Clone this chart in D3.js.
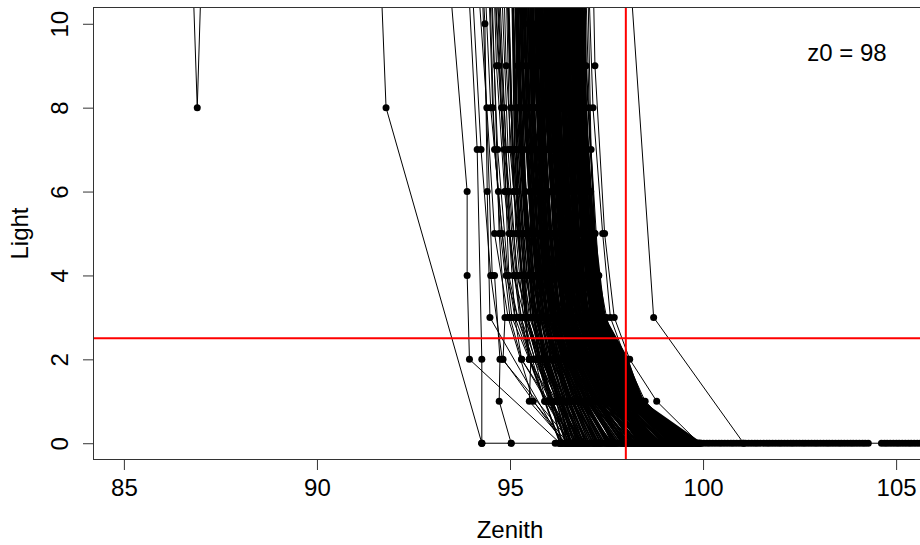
<!DOCTYPE html>
<html>
<head>
<meta charset="utf-8">
<script src="https://cdn.jsdelivr.net/npm/d3@7/dist/d3.min.js"></script>
<style>
  html, body { margin: 0; padding: 0; background: #fff; }
  svg { display: block; }
  text { font-family: "Liberation Sans", Arial, sans-serif; fill: #000; }
</style>
</head>
<body>
<svg id="chart" width="920" height="545"></svg>
<script>
// ---------------- data ----------------
const xTicks = [85, 90, 95, 100, 105];
const yTicks = [0, 2, 4, 6, 8, 10];
const xLimits = [85, 105];
const yLimits = [0, 10];
const z0 = 98;              // zenith threshold (red vertical)
const lightThreshold = 2.5; // light threshold (red horizontal)
const xLabel = "Zenith";
const yLabel = "Light";
const annotation = "z0 = 98";

// each twilight: flat list of zenith, light pairs
const outlierTwilights = [
  [86.79,11, 86.9,8, 87.0,11],
  [91.66,11, 91.79,8, 94.27,0],
  [98.05,12, 98.72,3, 101.05,0]
];

const earlyTwilights = [
  [93.35,12, 93.89,6, 93.89,4, 93.95,2, 96.3,0],
  [93.75,14, 94.15,7, 94.27,2, 94.27,0],
  [94.0,16, 94.35,10, 94.41,6, 94.48,3, 96.35,0],
  [94.2,13, 94.54,4, 94.6,4, 94.74,2, 94.72,1, 95.03,0],
  [94.4,15, 94.72,5, 94.87,3, 94.82,2, 96.4,0],
  [94.55,12, 94.89,6, 94.97,4, 95.2,3, 95.54,2, 95.5,1, 96.45,0],
  [94.6,14, 94.98,5, 95.13,3, 96.3,0],
  [94.7,18, 95.15,5, 95.35,3, 95.93,1, 96.55,0],
  [93.9,13, 94.25,7, 94.5,4, 94.8,2, 96.6,0],
  [94.1,12, 94.4,8, 94.6,5, 94.95,3, 95.6,1, 96.5,0],
  [94.25,17, 94.55,8, 94.75,5, 95.0,3, 95.3,2, 96.0,1, 96.7,0],
  [94.45,14, 94.7,9, 94.9,6, 95.1,4, 95.3,3, 95.5,2, 96.1,1, 96.6,0],
  [94.65,11, 94.85,8, 95.0,5, 95.25,3, 95.9,1, 96.8,0],
  [94.8,15, 95.0,7, 95.2,5, 95.4,3, 95.7,2, 96.0,1, 96.5,0],
  [94.3,12, 94.5,8, 94.7,6, 94.9,4, 95.2,3, 95.6,2, 96.2,1, 96.9,0],
  [94.38,14, 94.6,7, 94.8,5, 95.05,3, 95.5,2, 96.05,1, 96.75,0],
  [94.5,11, 94.68,7, 94.95,4, 95.3,2, 95.95,1, 96.6,0],
  [94.58,13, 94.78,8, 94.98,6, 95.2,4, 95.45,3, 95.8,2, 96.3,1, 96.95,0],
  [94.66,12, 94.85,7, 95.05,5, 95.28,3, 95.65,2, 96.15,1, 96.85,0],
  [94.72,15, 94.9,9, 95.1,6, 95.32,4, 95.55,3, 95.85,2, 96.4,1, 97.0,0],
  [94.78,11, 94.95,7, 95.18,4, 95.45,3, 95.8,2, 96.35,1, 96.9,0],
  [94.85,13, 95.02,8, 95.22,5, 95.44,3, 95.76,2, 96.22,1, 96.8,0],
  [94.9,12, 95.06,7, 95.27,5, 95.5,3, 95.9,2, 96.45,1, 97.05,0],
  [94.42,16, 94.65,9, 94.86,6, 95.1,4, 95.38,3, 95.72,2, 96.25,1, 96.7,0]
];

const mainTwilightsA = [
  [95.0,14, 95.12,7, 95.3,4, 95.45,3, 95.75,2, 96.05,1, 96.35,0],
  [95.04,20, 95.18,8, 95.4,5, 95.6,3, 95.85,2, 96.2,1, 96.5,0],
  [95.08,12, 95.2,9, 95.42,5, 95.66,3, 95.95,2, 96.3,1, 96.7,0],
  [95.1,17, 95.25,8, 95.5,4, 95.7,3, 95.92,2, 96.25,1, 96.6,0],
  [95.14,13, 95.3,7, 95.52,4, 95.74,2, 96.1,1, 96.45,0],
  [95.18,25, 95.33,9, 95.55,6, 95.76,4, 95.95,3, 96.2,2, 96.5,1, 96.9,0],
  [95.2,15, 95.36,8, 95.56,5, 95.8,3, 96.05,2, 96.4,1, 96.85,0],
  [95.24,12, 95.38,8, 95.6,4, 95.8,3, 96.0,2, 96.35,1, 96.75,0],
  [95.27,18, 95.42,9, 95.64,5, 95.86,3, 96.15,2, 96.5,1, 97.0,0],
  [95.3,14, 95.45,7, 95.66,4, 95.88,2, 96.3,1, 96.8,0],
  [95.33,22, 95.48,10, 95.7,6, 95.9,4, 96.1,3, 96.35,2, 96.7,1, 97.2,0],
  [95.36,13, 95.5,8, 95.72,5, 95.95,3, 96.25,2, 96.6,1, 97.05,0],
  [95.4,16, 95.55,9, 95.76,5, 95.98,3, 96.22,2, 96.55,1, 96.95,0],
  [95.42,12, 95.56,8, 95.78,4, 96.0,3, 96.3,2, 96.65,1, 97.15,0],
  [95.45,19, 95.6,8, 95.82,5, 96.05,3, 96.35,2, 96.75,1, 97.3,0],
  [95.48,14, 95.63,9, 95.85,6, 96.05,4, 96.25,3, 96.5,2, 96.85,1, 97.4,0],
  [95.5,13, 95.64,7, 95.86,4, 96.08,3, 96.4,2, 96.8,1, 97.25,0],
  [95.53,24, 95.68,10, 95.9,5, 96.12,3, 96.42,2, 96.9,1, 97.5,0],
  [95.56,15, 95.7,8, 95.92,5, 96.15,3, 96.45,2, 96.95,1, 97.6,0],
  [95.58,12, 95.72,9, 95.95,5, 96.18,3, 96.5,2, 96.85,1, 97.35,0],
  [95.6,17, 95.75,8, 95.96,4, 96.2,3, 96.48,2, 97.0,1, 97.7,0],
  [95.63,13, 95.77,7, 96.0,4, 96.22,3, 96.55,2, 96.95,1, 97.55,0],
  [95.66,20, 95.8,9, 96.02,5, 96.25,3, 96.6,2, 97.05,1, 97.8,0],
  [95.68,14, 95.82,8, 96.04,5, 96.28,3, 96.62,2, 97.1,1, 97.65,0],
  [95.7,12, 95.84,9, 96.06,6, 96.26,4, 96.46,3, 96.7,2, 97.15,1, 97.9,0],
  [95.72,18, 95.86,8, 96.08,5, 96.3,3, 96.65,2, 97.2,1, 98.0,0],
  [95.75,13, 95.88,8, 96.1,4, 96.32,3, 96.7,2, 97.1,1, 97.75,0],
  [95.77,16, 95.9,10, 96.12,5, 96.35,3, 96.72,2, 97.25,1, 98.1,0],
  [95.8,12, 95.93,8, 96.15,5, 96.38,3, 96.75,2, 97.3,1, 97.95,0],
  [95.82,21, 95.96,9, 96.18,5, 96.4,3, 96.78,2, 97.2,1, 98.2,0],
  [95.84,14, 95.98,8, 96.2,5, 96.42,3, 96.8,2, 97.35,1, 98.05,0],
  [95.86,13, 96.0,7, 96.22,4, 96.45,3, 96.85,2, 97.4,1, 98.3,0],
  [95.88,17, 96.02,9, 96.24,6, 96.44,4, 96.62,3, 96.9,2, 97.45,1, 98.15,0],
  [95.9,12, 96.04,8, 96.26,5, 96.5,3, 96.88,2, 97.5,1, 98.4,0],
  [95.92,15, 96.06,8, 96.28,5, 96.52,3, 96.92,2, 97.4,1, 98.25,0],
  [95.94,19, 96.08,10, 96.3,5, 96.54,3, 96.95,2, 97.55,1, 98.5,0],
  [95.96,13, 96.1,8, 96.32,4, 96.56,3, 96.98,2, 97.6,1, 98.35,0],
  [95.98,16, 96.12,9, 96.34,5, 96.58,3, 97.0,2, 97.5,1, 98.6,0],
  [96.0,12, 96.14,8, 96.36,5, 96.6,3, 97.02,2, 97.65,1, 98.45,0],
  [96.02,23, 96.16,9, 96.38,5, 96.62,3, 97.05,2, 97.6,1, 98.5,0],
  [96.04,14, 96.18,8, 96.4,5, 96.64,3, 97.08,2, 97.55,1, 98.45,0],
  [96.06,13, 96.2,7, 96.42,4, 96.66,3, 97.1,2, 97.65,1, 98.6,0],
  [96.08,17, 96.22,9, 96.44,6, 96.64,4, 96.84,3, 97.12,2, 97.7,1, 98.55,0],
  [96.1,12, 96.24,8, 96.46,5, 96.7,3, 97.15,2, 97.62,1, 98.7,0],
  [96.12,15, 96.26,8, 96.48,5, 96.72,3, 97.18,2, 97.75,1, 98.65,0],
  [96.14,20, 96.28,10, 96.5,5, 96.74,3, 97.2,2, 97.8,1, 98.8,0],
  [96.16,13, 96.3,8, 96.52,4, 96.76,3, 97.22,2, 97.72,1, 98.75,0],
  [96.18,16, 96.32,9, 96.54,5, 96.78,3, 97.25,2, 97.85,1, 98.9,0],
  [96.2,12, 96.34,8, 96.56,5, 96.8,3, 97.28,2, 97.9,1, 98.85,0],
  [96.22,19, 96.36,9, 96.58,5, 96.82,3, 97.3,2, 97.82,1, 99.0,0],
  [96.24,14, 96.38,8, 96.6,5, 96.84,3, 97.32,2, 97.95,1, 98.95,0],
  [96.26,13, 96.4,7, 96.62,4, 96.86,3, 97.35,2, 98.0,1, 99.1,0],
  [96.28,18, 96.42,9, 96.64,6, 96.84,4, 97.04,3, 97.38,2, 97.92,1, 99.05,0],
  [96.3,12, 96.44,8, 96.66,5, 96.9,3, 97.4,2, 98.02,1, 99.2,0],
  [96.32,15, 96.46,8, 96.68,5, 96.92,3, 97.42,2, 98.05,1, 99.15,0],
  [96.34,21, 96.48,10, 96.7,5, 96.94,3, 97.45,2, 97.98,1, 99.3,0],
  [96.36,13, 96.5,8, 96.72,4, 96.96,3, 97.48,2, 98.08,1, 99.25,0],
  [96.38,16, 96.52,9, 96.74,5, 96.98,3, 97.5,2, 98.1,1, 99.4,0],
  [96.4,12, 96.54,8, 96.76,5, 97.0,3, 97.52,2, 98.04,1, 99.35,0],
  [96.42,24, 96.56,9, 96.78,5, 97.02,3, 97.55,2, 98.12,1, 99.5,0],
  [96.44,14, 96.58,8, 96.8,5, 97.04,3, 97.58,2, 98.15,1, 99.45,0],
  [96.46,13, 96.6,7, 96.82,4, 97.06,3, 97.6,2, 98.1,1, 99.6,0],
  [96.48,17, 96.62,9, 96.84,6, 97.04,4, 97.22,3, 97.62,2, 98.18,1, 99.55,0],
  [96.5,12, 96.64,8, 96.86,5, 97.1,3, 97.65,2, 98.2,1, 99.7,0],
  [96.52,15, 96.66,8, 96.88,5, 97.12,3, 97.68,2, 98.14,1, 99.65,0],
  [96.54,20, 96.68,10, 96.9,5, 97.14,3, 97.7,2, 98.22,1, 99.8,0],
  [96.56,13, 96.7,8, 96.92,4, 97.16,3, 97.72,2, 98.2,1, 99.4,0],
  [96.58,16, 96.72,9, 96.94,5, 97.18,3, 97.75,2, 98.25,1, 99.75,0],
  [96.6,12, 96.74,8, 96.96,5, 97.2,3, 97.78,2, 98.18,1, 99.5,0],
  [96.62,19, 96.76,9, 96.98,5, 97.22,3, 97.8,2, 98.28,1, 99.85,0],
  [96.64,14, 96.78,8, 97.0,5, 97.25,3, 97.82,2, 98.24,1, 99.6,0],
  [96.66,13, 96.8,7, 97.02,4, 97.27,3, 97.85,2, 98.3,1, 99.9,0],
  [96.68,18, 96.82,9, 97.04,6, 97.24,4, 97.42,3, 97.88,2, 98.26,1, 99.7,0],
  [96.7,12, 96.84,8, 97.06,5, 97.3,3, 97.9,2, 98.32,1, 99.8,0],
  [96.72,15, 96.86,8, 97.08,5, 97.32,3, 97.92,2, 98.3,1, 99.55,0],
  [96.74,22, 96.88,10, 97.1,5, 97.35,3, 97.95,2, 98.35,1, 99.9,0],
  [96.76,13, 96.9,8, 97.12,4, 97.38,3, 97.98,2, 98.33,1, 99.65,0],
  [96.78,16, 96.92,9, 97.14,5, 97.4,3, 98.0,2, 98.38,1, 99.85,0],
  [96.8,12, 96.94,8, 97.16,5, 97.42,3, 98.02,2, 98.36,1, 99.7,0],
  [96.83,17, 96.97,9, 97.2,5, 97.45,3, 98.05,2, 98.4,1, 99.95,0]
];

const mainTwilightsB = [
  [94.95,11, 95.1,6, 95.3,4, 95.5,2, 95.9,1, 96.3,0],
  [94.98,15, 95.15,8, 95.35,5, 95.55,3, 95.8,2, 96.1,1, 96.45,0],
  [95.02,12, 95.17,7, 95.4,4, 95.62,3, 95.9,2, 96.25,1, 96.55,0],
  [95.06,11, 95.2,6, 95.45,3, 95.7,2, 96.05,1, 96.6,0],
  [95.09,14, 95.24,8, 95.47,5, 95.68,3, 95.95,2, 96.3,1, 96.65,0],
  [95.12,11, 95.27,7, 95.5,4, 95.72,3, 95.98,2, 96.35,1, 96.75,0],
  [95.16,13, 95.3,9, 95.52,6, 95.72,4, 95.9,3, 96.15,2, 96.45,1, 96.8,0],
  [95.19,11, 95.34,7, 95.57,4, 95.78,3, 96.08,2, 96.42,1, 96.9,0],
  [95.22,15, 95.37,8, 95.6,5, 95.83,3, 96.12,2, 96.55,1, 97.0,0],
  [95.25,11, 95.4,6, 95.62,4, 95.85,2, 96.28,1, 96.85,0],
  [95.28,12, 95.43,8, 95.66,5, 95.88,3, 96.18,2, 96.6,1, 97.1,0],
  [95.31,14, 95.46,7, 95.68,4, 95.9,3, 96.2,2, 96.62,1, 97.15,0],
  [95.34,11, 95.49,8, 95.7,5, 95.93,3, 96.26,2, 96.7,1, 97.25,0],
  [95.38,13, 95.52,9, 95.74,6, 95.94,4, 96.12,3, 96.4,2, 96.78,1, 97.35,0],
  [95.41,11, 95.55,7, 95.78,4, 96.0,3, 96.3,2, 96.72,1, 97.2,0],
  [95.44,15, 95.58,8, 95.8,5, 96.02,3, 96.36,2, 96.82,1, 97.45,0],
  [95.47,11, 95.61,6, 95.83,4, 96.06,2, 96.6,1, 97.3,0],
  [95.49,12, 95.63,8, 95.85,5, 96.08,3, 96.38,2, 96.86,1, 97.55,0],
  [95.52,14, 95.66,7, 95.88,4, 96.1,3, 96.44,2, 96.9,1, 97.6,0],
  [95.55,11, 95.69,8, 95.9,5, 96.13,3, 96.47,2, 96.98,1, 97.5,0],
  [95.57,13, 95.71,9, 95.93,6, 96.13,4, 96.32,3, 96.56,2, 97.02,1, 97.7,0],
  [95.59,11, 95.73,7, 95.95,4, 96.17,3, 96.52,2, 97.0,1, 97.75,0],
  [95.62,15, 95.76,8, 95.98,5, 96.2,3, 96.55,2, 97.08,1, 97.85,0],
  [95.64,11, 95.78,6, 96.0,4, 96.23,2, 96.8,1, 97.65,0],
  [95.67,12, 95.81,8, 96.03,5, 96.26,3, 96.6,2, 97.12,1, 97.95,0],
  [95.69,14, 95.83,7, 96.05,4, 96.28,3, 96.64,2, 97.18,1, 98.05,0],
  [95.71,11, 95.85,8, 96.07,5, 96.3,3, 96.68,2, 97.22,1, 97.9,0],
  [95.74,13, 95.88,9, 96.1,6, 96.3,4, 96.48,3, 96.75,2, 97.28,1, 98.15,0],
  [95.76,11, 95.9,7, 96.12,4, 96.35,3, 96.74,2, 97.26,1, 98.0,0],
  [95.79,15, 95.93,8, 96.15,5, 96.37,3, 96.77,2, 97.32,1, 98.25,0],
  [95.81,11, 95.95,6, 96.17,4, 96.4,2, 97.0,1, 98.1,0],
  [95.83,12, 95.97,8, 96.19,5, 96.42,3, 96.82,2, 97.38,1, 98.35,0],
  [95.85,14, 95.99,7, 96.21,4, 96.44,3, 96.84,2, 97.42,1, 98.2,0],
  [95.87,11, 96.01,8, 96.23,5, 96.46,3, 96.87,2, 97.46,1, 98.45,0],
  [95.89,13, 96.03,9, 96.25,6, 96.45,4, 96.64,3, 96.9,2, 97.48,1, 98.3,0],
  [95.91,11, 96.05,7, 96.27,4, 96.5,3, 96.92,2, 97.52,1, 98.55,0],
  [95.93,15, 96.07,8, 96.29,5, 96.52,3, 96.94,2, 97.56,1, 98.4,0],
  [95.95,11, 96.09,6, 96.31,4, 96.54,2, 97.2,1, 98.6,0],
  [95.97,12, 96.11,8, 96.33,5, 96.56,3, 96.99,2, 97.58,1, 98.5,0],
  [95.99,14, 96.13,7, 96.35,4, 96.58,3, 97.01,2, 97.62,1, 98.65,0],
  [96.01,11, 96.15,8, 96.37,5, 96.6,3, 97.03,2, 97.66,1, 98.55,0],
  [96.03,13, 96.17,9, 96.39,6, 96.59,4, 96.78,3, 97.06,2, 97.68,1, 98.7,0],
  [96.05,11, 96.19,7, 96.41,4, 96.64,3, 97.09,2, 97.7,1, 98.6,0],
  [96.07,15, 96.21,8, 96.43,5, 96.66,3, 97.11,2, 97.72,1, 98.8,0],
  [96.09,11, 96.23,6, 96.45,4, 96.68,2, 97.3,1, 98.75,0],
  [96.11,12, 96.25,8, 96.47,5, 96.7,3, 97.16,2, 97.76,1, 98.9,0],
  [96.13,14, 96.27,7, 96.49,4, 96.72,3, 97.19,2, 97.8,1, 98.85,0],
  [96.15,11, 96.29,8, 96.51,5, 96.74,3, 97.21,2, 97.84,1, 98.7,0],
  [96.17,13, 96.31,9, 96.53,6, 96.73,4, 96.92,3, 97.24,2, 97.86,1, 98.65,0],
  [96.19,11, 96.33,7, 96.55,4, 96.78,3, 97.26,2, 97.88,1, 98.8,0],
  [96.21,15, 96.35,8, 96.57,5, 96.8,3, 97.29,2, 97.9,1, 98.75,0],
  [96.23,11, 96.37,6, 96.59,4, 96.82,2, 97.45,1, 98.9,0],
  [96.25,12, 96.39,8, 96.61,5, 96.84,3, 97.33,2, 97.94,1, 98.85,0],
  [96.27,14, 96.41,7, 96.63,4, 96.86,3, 97.36,2, 97.97,1, 99.0,0],
  [96.29,11, 96.43,8, 96.65,5, 96.88,3, 97.39,2, 98.0,1, 98.95,0],
  [96.31,13, 96.45,9, 96.67,6, 96.87,4, 97.06,3, 97.41,2, 98.03,1, 99.1,0],
  [96.33,11, 96.47,7, 96.69,4, 96.92,3, 97.43,2, 98.06,1, 99.05,0],
  [96.35,15, 96.49,8, 96.71,5, 96.94,3, 97.46,2, 98.08,1, 99.2,0],
  [96.37,11, 96.51,6, 96.73,4, 96.96,2, 97.65,1, 99.15,0],
  [96.39,12, 96.53,8, 96.75,5, 96.98,3, 97.51,2, 98.11,1, 99.3,0],
  [96.41,14, 96.55,7, 96.77,4, 97.0,3, 97.53,2, 98.13,1, 99.25,0],
  [96.43,11, 96.57,8, 96.79,5, 97.02,3, 97.56,2, 98.16,1, 99.4,0],
  [96.45,13, 96.59,9, 96.81,6, 97.01,4, 97.2,3, 97.59,2, 98.17,1, 99.35,0],
  [96.47,11, 96.61,7, 96.83,4, 97.06,3, 97.61,2, 98.19,1, 99.5,0],
  [96.49,15, 96.63,8, 96.85,5, 97.08,3, 97.63,2, 98.21,1, 99.45,0],
  [96.51,11, 96.65,6, 96.87,4, 97.1,2, 97.8,1, 99.6,0],
  [96.53,12, 96.67,8, 96.89,5, 97.12,3, 97.67,2, 98.23,1, 99.55,0],
  [96.55,14, 96.69,7, 96.91,4, 97.14,3, 97.69,2, 98.26,1, 99.3,0],
  [96.57,11, 96.71,8, 96.93,5, 97.16,3, 97.71,2, 98.27,1, 99.65,0],
  [96.59,13, 96.73,9, 96.95,6, 97.15,4, 97.33,3, 97.74,2, 98.29,1, 99.4,0],
  [96.61,11, 96.75,7, 96.97,4, 97.2,3, 97.76,2, 98.31,1, 99.5,0],
  [96.63,15, 96.77,8, 96.99,5, 97.22,3, 97.79,2, 98.33,1, 99.6,0],
  [96.65,11, 96.79,6, 97.01,4, 97.24,2, 97.95,1, 99.45,0],
  [96.67,12, 96.81,8, 97.03,5, 97.26,3, 97.83,2, 98.34,1, 99.55,0],
  [96.69,14, 96.83,7, 97.05,4, 97.28,3, 97.86,2, 98.36,1, 99.35,0],
  [96.71,11, 96.85,8, 97.07,5, 97.31,3, 97.89,2, 98.37,1, 99.65,0],
  [96.73,13, 96.87,9, 97.09,6, 97.29,4, 97.46,3, 97.91,2, 98.39,1, 99.5,0],
  [96.75,11, 96.89,7, 97.11,4, 97.34,3, 97.93,2, 98.41,1, 99.6,0],
  [96.77,15, 96.91,8, 97.13,5, 97.37,3, 97.96,2, 98.42,1, 99.4,0],
  [96.79,11, 96.93,6, 97.15,4, 97.39,2, 98.1,1, 99.55,0],
  [96.81,12, 96.95,8, 97.17,5, 97.41,3, 97.99,2, 98.44,1, 99.7,0],
  [96.85,14, 96.99,7, 97.21,4, 97.44,3, 98.03,2, 98.45,1, 99.5,0]
];

const lateTwilights = [
  [96.9,13, 97.05,8, 97.2,5, 97.35,3, 97.7,2, 98.2,1, 99.0,0],
  [96.95,14, 97.1,7, 97.3,4, 97.5,3, 97.8,2, 98.3,1, 99.2,0],
  [97.0,12, 97.15,8, 97.4,5, 97.6,3, 98.0,2, 98.5,1, 99.6,0],
  [97.05,16, 97.2,9, 97.45,5, 97.7,3, 98.1,2, 98.8,1, 99.9,0]
];

// night readings (light = 0), in order of zenith
const nightZenith = [94.27, 95.03, 96.17, 96.26, 96.34, 96.43, 96.5, 96.58, 96.66, 96.75, 96.83,
  96.9, 96.98, 97.06, 97.15, 97.22, 97.3, 97.38, 97.46, 97.54, 97.62, 97.7, 97.78, 97.86, 97.94,
  98.02, 98.1, 98.18, 98.26, 98.34, 98.42, 98.5, 98.58, 98.66, 98.74, 98.82, 98.9, 98.98, 99.06,
  99.14, 99.22, 99.3, 99.38, 99.46, 99.54, 99.62, 99.7, 99.78, 99.86, 99.94, 100.02, 100.1,
  100.17, 100.25, 100.33, 100.41, 100.48, 100.56, 100.64, 100.72, 100.79, 100.87, 100.95, 101.03,
  101.1, 101.18, 101.26, 101.34, 101.41, 101.49, 101.57, 101.65, 101.72, 101.8, 101.88, 101.96,
  102.03, 102.11, 102.19, 102.27, 102.34, 102.42, 102.5, 102.58, 102.65, 102.73, 102.81, 102.89,
  102.96, 103.04, 103.12, 103.2, 103.27, 103.35, 103.43, 103.51, 103.58, 103.66, 103.74, 103.82,
  103.89, 103.97, 104.05, 104.13, 104.2, 104.28, 104.62, 104.7, 104.77, 104.85, 104.93, 105.01,
  105.08, 105.16, 105.24, 105.32, 105.39, 105.47, 105.55, 105.63, 105.7, 105.78, 105.86];

// ---------------- drawing ----------------
const svg = d3.select("#chart");
const plot = {left: 93, right: 927, top: 7, bottom: 460};
const fontSize = 24;

// R-style 4% axis expansion of the limits
const xPad = (xLimits[1] - xLimits[0]) * 0.04;
const yPad = (yLimits[1] - yLimits[0]) * 0.04;
const x = d3.scaleLinear().domain([xLimits[0] - xPad, xLimits[1] + xPad]).range([plot.left, plot.right]);
const y = d3.scaleLinear().domain([yLimits[0] - yPad, yLimits[1] + yPad]).range([plot.bottom, plot.top]);

svg.append("defs").append("clipPath").attr("id", "clip")
  .append("rect")
  .attr("x", plot.left).attr("y", plot.top)
  .attr("width", plot.right - plot.left).attr("height", plot.bottom - plot.top);

function toPairs(flat) {
  const out = [];
  for (let i = 0; i < flat.length; i += 2) out.push([flat[i], flat[i + 1]]);
  return out;
}

const sparse = [...outlierTwilights, ...earlyTwilights, ...lateTwilights].map(toPairs);
const dense = [...mainTwilightsA, ...mainTwilightsB].map(toPairs);
const nightSeries = nightZenith.map(z => [z, 0]);

const g = svg.append("g").attr("clip-path", "url(#clip)");
const line = d3.line().x(d => x(d[0])).y(d => y(d[1]));

// lines: dense band (overplotted, heavier) and sparse twilights
g.append("g").selectAll("path")
  .data(dense)
  .join("path")
  .attr("d", line)
  .attr("fill", "none")
  .attr("stroke", "#000")
  .attr("stroke-width", 1.7);
g.append("g").selectAll("path")
  .data([...sparse, nightSeries])
  .join("path")
  .attr("d", line)
  .attr("fill", "none")
  .attr("stroke", "#000")
  .attr("stroke-width", 1);

// points
const allPoints = sparse.flat().concat(dense.flat(), nightSeries);
g.append("g").selectAll("circle")
  .data(allPoints)
  .join("circle")
  .attr("cx", d => x(d[0]))
  .attr("cy", d => y(d[1]))
  .attr("r", 3.5)
  .attr("fill", "#000");

// threshold lines
g.append("line")
  .attr("x1", x(z0)).attr("x2", x(z0))
  .attr("y1", plot.top).attr("y2", plot.bottom)
  .attr("stroke", "#ff0000").attr("stroke-width", 2);
g.append("line")
  .attr("x1", plot.left).attr("x2", plot.right)
  .attr("y1", y(lightThreshold)).attr("y2", y(lightThreshold))
  .attr("stroke", "#ff0000").attr("stroke-width", 2);

// box
svg.append("rect")
  .attr("x", plot.left + 0.5).attr("y", plot.top + 0.5)
  .attr("width", plot.right - plot.left - 1).attr("height", plot.bottom - plot.top - 1)
  .attr("fill", "none").attr("stroke", "#333").attr("stroke-width", 1);

// x axis
const xAxis = svg.append("g")
  .attr("transform", `translate(0,${plot.bottom})`)
  .call(d3.axisBottom(x).tickValues(xTicks).tickSize(10).tickSizeOuter(0).tickFormat(d3.format("d")));
xAxis.select(".domain").remove();
xAxis.selectAll(".tick line").attr("stroke", "#333");
xAxis.selectAll(".tick text")
  .attr("y", 36).attr("dy", null)
  .attr("font-size", fontSize).attr("font-family", "Liberation Sans, Arial, sans-serif")
  .attr("fill", "#000");

// y axis
const yAxis = svg.append("g")
  .attr("transform", `translate(${plot.left},0)`)
  .call(d3.axisLeft(y).tickValues(yTicks).tickSize(10).tickSizeOuter(0).tickFormat(d3.format("d")));
yAxis.select(".domain").remove();
yAxis.selectAll(".tick line").attr("stroke", "#333");
yAxis.selectAll(".tick text")
  .attr("x", null).attr("dy", null)
  .attr("transform", "translate(-25,0) rotate(-90)")
  .attr("text-anchor", "middle")
  .attr("font-size", fontSize).attr("font-family", "Liberation Sans, Arial, sans-serif")
  .attr("fill", "#000");

// axis titles
svg.append("text")
  .attr("x", (plot.left + plot.right) / 2).attr("y", 538)
  .attr("text-anchor", "middle").attr("font-size", fontSize)
  .text(xLabel);
svg.append("text")
  .attr("transform", `translate(28,${(plot.top + plot.bottom) / 2}) rotate(-90)`)
  .attr("text-anchor", "middle").attr("font-size", fontSize)
  .text(yLabel);

// annotation
svg.append("text")
  .attr("x", 847).attr("y", 61)
  .attr("text-anchor", "middle").attr("font-size", fontSize)
  .text(annotation);
</script>
</body>
</html>
